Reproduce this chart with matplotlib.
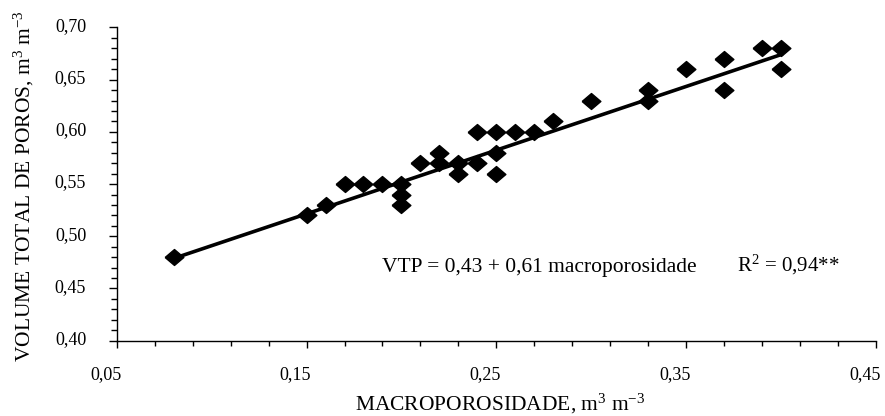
import numpy as np
import matplotlib
matplotlib.use("Agg")
import matplotlib.pyplot as plt
import matplotlib.transforms as mtransforms
from matplotlib.ticker import MultipleLocator, FuncFormatter

# Macroporosidade (m3 m-3) vs volume total de poros (m3 m-3)
macro = [0.08, 0.15, 0.16, 0.17, 0.18, 0.19, 0.20, 0.20, 0.20,
         0.21, 0.22, 0.22, 0.23, 0.23, 0.24, 0.24, 0.25, 0.25, 0.25,
         0.26, 0.27, 0.28, 0.30, 0.33, 0.33, 0.35, 0.37, 0.37,
         0.39, 0.40, 0.40]
vtp = [0.48, 0.52, 0.53, 0.55, 0.55, 0.55, 0.55, 0.54, 0.53,
       0.57, 0.58, 0.57, 0.57, 0.56, 0.60, 0.57, 0.60, 0.58, 0.56,
       0.60, 0.60, 0.61, 0.63, 0.64, 0.63, 0.66, 0.67, 0.64,
       0.68, 0.68, 0.66]

# regression coefficients from the equation in the chart
intercept = 0.43
slope = 0.61

plt.rcParams['font.family'] = ['Liberation Serif', 'DejaVu Serif']
plt.rcParams['mathtext.fontset'] = 'custom'
plt.rcParams['mathtext.rm'] = 'Liberation Serif'
plt.rcParams['mathtext.it'] = 'Liberation Serif:italic'

fig = plt.figure(figsize=(8.85, 4.16), dpi=100)
ax = fig.add_axes([0.1319, 0.181, 0.8579, 0.753])

# wide diamond marker
diamond = [(-1, 0), (0, -0.85), (1, 0), (0, 0.85), (-1, 0)]
ax.plot(macro, vtp, linestyle='none', marker=diamond, markersize=13.5,
        color='black', zorder=3)

xfit = np.array([min(macro), max(macro)])
ax.plot(xfit, intercept + slope * xfit, color='black', linewidth=2.6, zorder=2)

ax.set_xlim(0.05, 0.45)
ax.set_ylim(0.40, 0.70)
ax.xaxis.set_major_locator(MultipleLocator(0.10, offset=0.05))
ax.xaxis.set_minor_locator(MultipleLocator(0.02, offset=0.01))
ax.yaxis.set_major_locator(MultipleLocator(0.05))
ax.yaxis.set_minor_locator(MultipleLocator(0.01))
comma = FuncFormatter(lambda v, p: f"{v:.2f}".replace('.', ','))
ax.xaxis.set_major_formatter(comma)
ax.yaxis.set_major_formatter(comma)

for side in ['top', 'right']:
    ax.spines[side].set_visible(False)
for side in ['left', 'bottom']:
    ax.spines[side].set_linewidth(1.0)

ax.tick_params(axis='x', which='major', direction='out', length=5, width=1,
               labelsize=13, pad=13)
ax.tick_params(axis='x', which='minor', direction='out', length=3.5, width=1)
ax.tick_params(axis='y', which='major', direction='out', length=6, width=1,
               labelsize=13, pad=16)
ax.tick_params(axis='y', which='minor', direction='out', length=4, width=1)

# Excel-like offsets of the tick labels
xoff = mtransforms.ScaledTranslation(-11 / 100, 0, fig.dpi_scale_trans)
for lab in ax.get_xticklabels():
    lab.set_transform(lab.get_transform() + xoff)
yoff = mtransforms.ScaledTranslation(0, 3 / 100, fig.dpi_scale_trans)
for lab in ax.get_yticklabels():
    lab.set_transform(lab.get_transform() + yoff)

fig.text(0.5655, 0.014, r"MACROPOROSIDADE, m$^3$ m$^{-3}$", fontsize=15.5,
         ha='center', va='baseline')
fig.text(0.027, 0.553, r"VOLUME TOTAL DE POROS, m$^3$ m$^{-3}$", fontsize=15.5,
         rotation=90, ha='center', va='center')

ax.text(0.1895, 0.466, "VTP = 0,43 + 0,61 macroporosidade", fontsize=15.5,
        va='baseline', ha='left')
ax.text(0.3767, 0.466, r"R$^2$ = 0,94**", fontsize=15, va='baseline', ha='left')

fig.savefig("out.png", dpi=100)
